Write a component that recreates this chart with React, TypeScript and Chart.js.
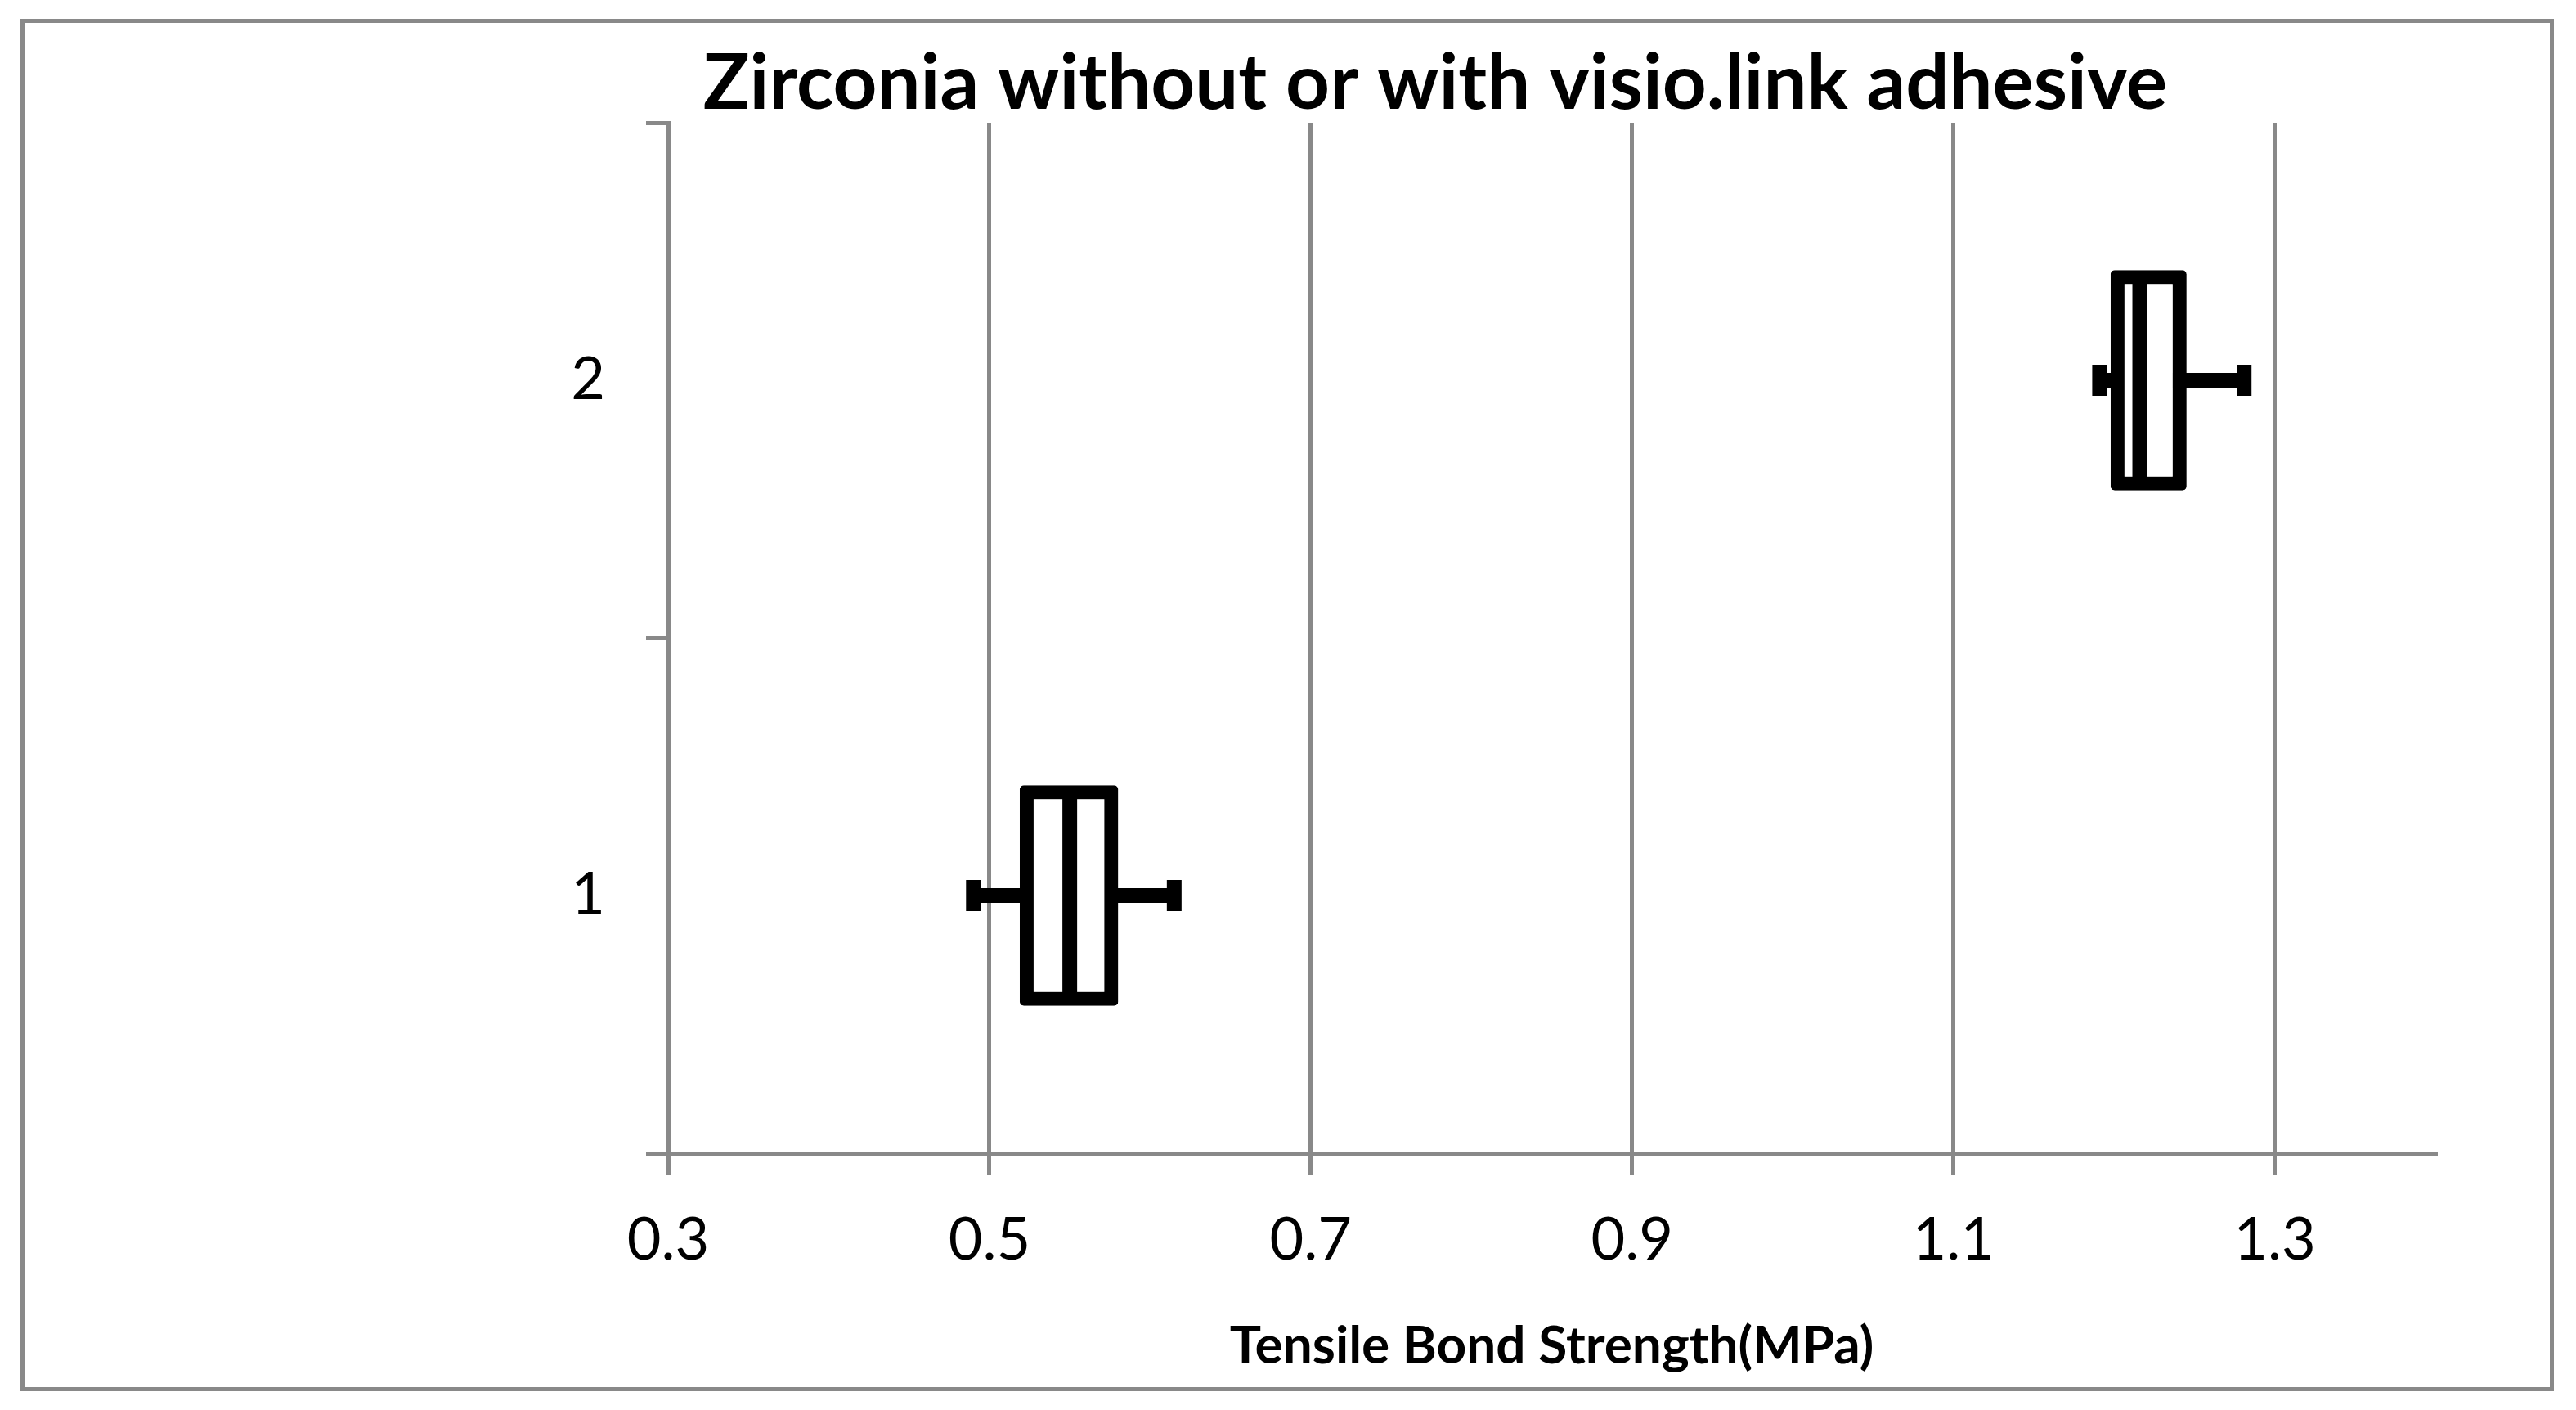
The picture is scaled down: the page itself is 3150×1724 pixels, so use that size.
import React, { useEffect, useRef } from 'react';
import { Chart, registerables } from 'chart.js';

Chart.register(...registerables);

const TITLE = 'Zirconia without or with visio.link adhesive';
const X_TITLE = 'Tensile Bond Strength(MPa)';
const CATEGORIES = ['1', '2'];
const X_TICKS = [0.3, 0.5, 0.7, 0.9, 1.1, 1.3];
const X_MIN = 0.3;
const X_MAX = 1.4;
const MIN_VALUES = [0.49, 1.191];
const Q1_VALUES = [0.519, 1.198];
const MEDIAN_VALUES = [0.55, 1.216];
const Q3_VALUES = [0.58, 1.245];
const MAX_VALUES = [0.615, 1.281];

const GREY = '#898989';
const FONT = "Lato, 'Open Sans', sans-serif";

export default function App() {
  const ref = useRef<HTMLCanvasElement | null>(null);

  useEffect(() => {
    if (!ref.current) return;
    const whiskers = CATEGORIES.map((c, i) => ({
      type: 'line' as const,
      indexAxis: 'y' as const,
      data: [
        { x: MIN_VALUES[i], y: c },
        { x: MAX_VALUES[i], y: c },
      ],
      borderColor: '#000',
      borderWidth: 18,
      pointStyle: 'line' as const,
      pointRotation: 90,
      pointRadius: 19,
      pointBorderWidth: 18,
      pointBorderColor: '#000',
      pointBackgroundColor: '#000',
      order: 2,
    }));
    const chart = new Chart(ref.current, {
      type: 'bar',
      data: {
        labels: CATEGORIES,
        datasets: [
          {
            type: 'line' as const,
            indexAxis: 'y' as const,
            data: CATEGORIES.map((c, i) => ({ x: MEDIAN_VALUES[i], y: c })),
            showLine: false,
            pointStyle: 'line' as const,
            pointRotation: 90,
            pointRadius: 126,
            pointBorderWidth: 18,
            pointBorderColor: '#000',
            order: 0,
          } as any,
          {
            type: 'bar' as const,
            data: CATEGORIES.map((_, i) => [Q1_VALUES[i], Q3_VALUES[i]]),
            backgroundColor: '#fff',
            borderColor: '#000',
            borderWidth: 17,
            borderSkipped: false,
            borderRadius: 5,
            barThickness: 269,
            order: 1,
          } as any,
          ...(whiskers as any[]),
        ],
      },
      options: {
        indexAxis: 'y',
        responsive: false,
        animation: false,
        devicePixelRatio: 1,
        layout: { padding: { left: 532, right: 172, top: 0, bottom: 0 } },
        plugins: {
          legend: { display: false },
          tooltip: { enabled: false },
          title: {
            display: true,
            text: TITLE,
            color: '#000',
            font: { family: FONT, size: 94, weight: 'bold', lineHeight: 1 },
            padding: { top: 56, bottom: 0 },
          },
        },
        scales: {
          x: {
            type: 'linear',
            min: X_MIN,
            max: X_MAX,
            afterBuildTicks: (scale: any) => {
              scale.ticks = X_TICKS.map((v) => ({ value: v }));
            },
            afterFit: (scale: any) => {
              scale.height = 314;
            },
            grid: {
              color: GREY,
              lineWidth: 5,
              drawOnChartArea: true,
              drawTicks: true,
              tickLength: 27,
              tickColor: GREY,
            },
            border: { display: true, color: GREY, width: 5 },
            ticks: {
              color: '#000',
              font: { family: FONT, size: 72, lineHeight: 1.2 },
              padding: 37,
              maxRotation: 0,
              callback: (v: any) => String(v),
            },
            title: {
              display: true,
              text: X_TITLE,
              color: '#000',
              font: { family: FONT, size: 64, weight: 'bold', lineHeight: 1 },
              padding: { top: 0, bottom: 46 },
            },
          },
          y: {
            type: 'category',
            labels: CATEGORIES,
            reverse: true,
            offset: true,
            afterFit: (scale: any) => {
              scale.width = 285;
            },
            grid: {
              offset: true,
              drawOnChartArea: false,
              drawTicks: true,
              tickLength: 27,
              color: GREY,
              tickColor: GREY,
              lineWidth: 5,
            },
            border: { display: true, color: GREY, width: 5 },
            ticks: {
              color: '#000',
              font: { family: FONT, size: 72, lineHeight: 1.2 },
              padding: 50,
            },
          },
        },
      } as any,
    });
    return () => chart.destroy();
  }, []);

  return (
    <div style={{ position: 'fixed', left: 0, top: 0, width: 3150, height: 1724, background: '#fff' }}>
      <div
        style={{
          position: 'absolute',
          left: 25,
          top: 23,
          width: 3098,
          height: 1678,
          border: `5px solid ${GREY}`,
          boxSizing: 'border-box',
        }}
      />
      <canvas ref={ref} width={3150} height={1724} style={{ position: 'absolute', left: 0, top: 0 }} />
    </div>
  );
}
